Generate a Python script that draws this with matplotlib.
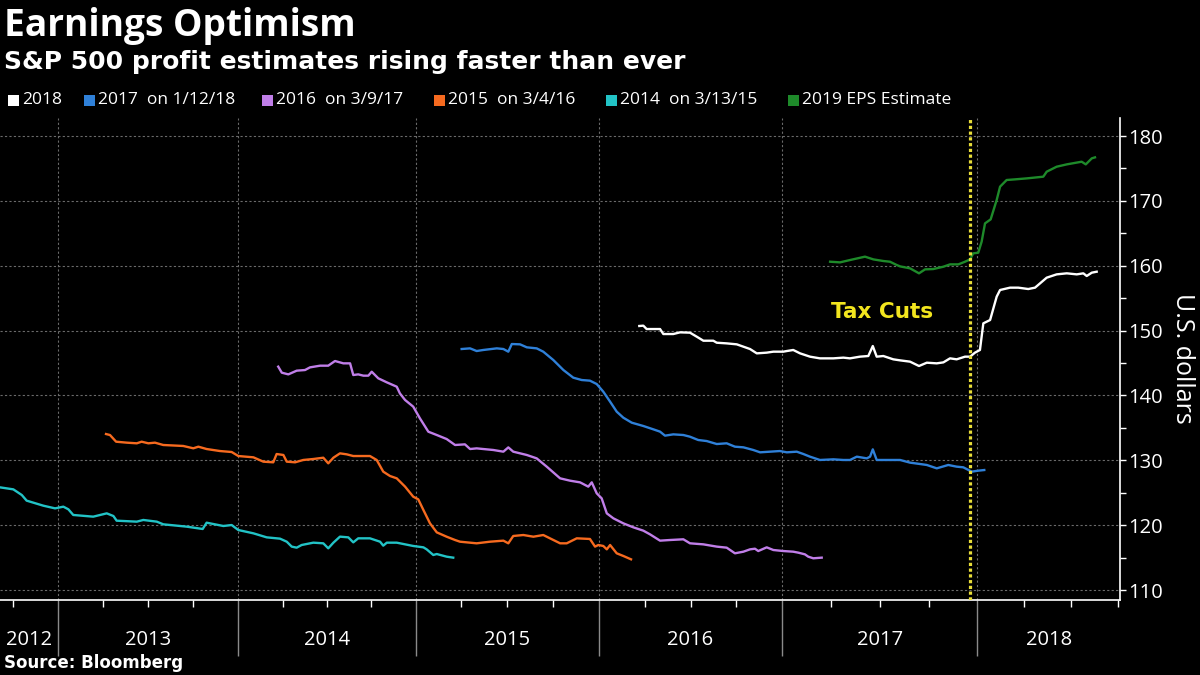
import numpy as np
import matplotlib
matplotlib.use("Agg")
import matplotlib.pyplot as plt
from matplotlib.patches import Rectangle
from matplotlib.transforms import blended_transform_factory

plt.rcParams['font.family'] = ['Open Sans', 'DejaVu Sans']

# ---------------- data (x in decimal years, y in U.S. dollars) ----------------
eps2014_x = [2012.676, 2012.750, 2012.797, 2012.824, 2012.917, 2012.982, 2013.028, 2013.056, 2013.083, 2013.194,
             2013.269, 2013.306, 2013.324, 2013.436, 2013.472, 2013.547, 2013.583, 2013.713, 2013.802, 2013.824,
             2013.917, 2013.963, 2014.000, 2014.085, 2014.160, 2014.235, 2014.273, 2014.301, 2014.329, 2014.357,
             2014.423, 2014.479, 2014.507, 2014.536, 2014.573, 2014.620, 2014.648, 2014.676, 2014.742, 2014.799,
             2014.817, 2014.837, 2014.893, 2014.986, 2015.042, 2015.060, 2015.096, 2015.115, 2015.169, 2015.205]
eps2014_y = [125.83, 125.52, 124.65, 123.78, 123.00, 122.59, 122.85, 122.44, 121.57, 121.31,
             121.82, 121.41, 120.69, 120.54, 120.80, 120.54, 120.13, 119.77, 119.41, 120.38,
             119.87, 120.02, 119.25, 118.74, 118.12, 117.92, 117.45, 116.69, 116.53, 116.94,
             117.30, 117.20, 116.43, 117.30, 118.23, 118.12, 117.35, 117.97, 117.97, 117.45,
             116.84, 117.30, 117.30, 116.79, 116.58, 116.27, 115.40, 115.55, 115.14, 114.99]

eps2015_x = [2013.265, 2013.287, 2013.321, 2013.380, 2013.436, 2013.463, 2013.500, 2013.537, 2013.583, 2013.694,
             2013.750, 2013.778, 2013.824, 2013.898, 2013.963, 2014.000, 2014.085, 2014.141, 2014.197, 2014.216,
             2014.254, 2014.273, 2014.320, 2014.366, 2014.423, 2014.479, 2014.507, 2014.536, 2014.573, 2014.611,
             2014.648, 2014.742, 2014.780, 2014.817, 2014.855, 2014.893, 2014.940, 2014.986, 2015.014, 2015.042,
             2015.078, 2015.115, 2015.169, 2015.215, 2015.242, 2015.333, 2015.406, 2015.479, 2015.506, 2015.533,
             2015.588, 2015.643, 2015.697, 2015.789, 2015.825, 2015.880, 2015.952, 2015.980, 2015.998, 2016.025,
             2016.044, 2016.062, 2016.098, 2016.134, 2016.176]
eps2015_y = [134.05, 133.90, 132.87, 132.72, 132.62, 132.87, 132.62, 132.72, 132.36, 132.21,
             131.85, 132.10, 131.74, 131.43, 131.28, 130.66, 130.46, 129.79, 129.69, 130.97,
             130.82, 129.79, 129.69, 130.05, 130.20, 130.40, 129.53, 130.40, 131.07, 130.92,
             130.66, 130.66, 130.05, 128.25, 127.58, 127.22, 125.94, 124.39, 123.98, 122.34,
             120.28, 118.89, 118.22, 117.71, 117.45, 117.20, 117.45, 117.61, 117.20, 118.33,
             118.48, 118.22, 118.48, 117.20, 117.20, 117.97, 117.87, 116.69, 116.94, 116.79,
             116.27, 116.94, 115.66, 115.25, 114.73]

eps2016_x = [2014.225, 2014.245, 2014.282, 2014.329, 2014.376, 2014.404, 2014.461, 2014.507, 2014.545, 2014.592,
             2014.630, 2014.648, 2014.676, 2014.705, 2014.733, 2014.752, 2014.789, 2014.837, 2014.893, 2014.911,
             2014.940, 2014.986, 2015.023, 2015.069, 2015.115, 2015.169, 2015.215, 2015.269, 2015.297, 2015.333,
             2015.369, 2015.424, 2015.479, 2015.506, 2015.533, 2015.607, 2015.661, 2015.716, 2015.789, 2015.843,
             2015.898, 2015.943, 2015.962, 2015.989, 2016.016, 2016.044, 2016.080, 2016.134, 2016.188, 2016.243,
             2016.279, 2016.334, 2016.388, 2016.461, 2016.497, 2016.570, 2016.643, 2016.697, 2016.742, 2016.788,
             2016.824, 2016.851, 2016.869, 2016.915, 2016.951, 2017.005, 2017.056, 2017.082, 2017.116, 2017.133,
             2017.159, 2017.202]
eps2016_y = [144.44, 143.51, 143.25, 143.82, 143.92, 144.33, 144.59, 144.59, 145.31, 144.95,
             144.95, 143.15, 143.25, 143.05, 143.05, 143.66, 142.64, 142.02, 141.35, 140.31,
             139.30, 138.27, 136.47, 134.41, 133.90, 133.28, 132.36, 132.46, 131.74, 131.84,
             131.74, 131.59, 131.33, 131.99, 131.33, 130.82, 130.30, 129.02, 127.22, 126.86,
             126.60, 125.94, 126.60, 124.91, 124.14, 121.82, 121.05, 120.28, 119.67, 119.15,
             118.59, 117.61, 117.71, 117.82, 117.20, 117.04, 116.69, 116.53, 115.66, 115.91,
             116.27, 116.37, 116.01, 116.58, 116.17, 116.01, 115.91, 115.76, 115.50, 115.14,
             114.89, 114.99]

eps2017_x = [2015.251, 2015.297, 2015.333, 2015.369, 2015.443, 2015.479, 2015.506, 2015.525, 2015.570, 2015.607,
             2015.661, 2015.697, 2015.752, 2015.807, 2015.861, 2015.907, 2015.952, 2015.989, 2016.025, 2016.062,
             2016.098, 2016.134, 2016.180, 2016.243, 2016.297, 2016.334, 2016.361, 2016.406, 2016.461, 2016.497,
             2016.542, 2016.588, 2016.643, 2016.697, 2016.742, 2016.788, 2016.842, 2016.879, 2016.933, 2016.987,
             2017.023, 2017.074, 2017.108, 2017.142, 2017.193, 2017.262, 2017.313, 2017.347, 2017.382, 2017.433,
             2017.450, 2017.464, 2017.484, 2017.535, 2017.604, 2017.655, 2017.706, 2017.741, 2017.792, 2017.851,
             2017.894, 2017.928, 2017.971, 2018.005, 2018.037]
eps2017_y = [147.16, 147.26, 146.85, 147.01, 147.26, 147.16, 146.75, 147.93, 147.88, 147.42,
             147.26, 146.75, 145.46, 143.92, 142.74, 142.38, 142.28, 141.76, 140.58, 139.04,
             137.50, 136.57, 135.80, 135.29, 134.78, 134.42, 133.80, 134.00, 133.90, 133.64,
             133.13, 132.97, 132.51, 132.62, 132.10, 132.00, 131.59, 131.23, 131.33, 131.43,
             131.23, 131.33, 130.97, 130.56, 130.05, 130.15, 130.05, 130.05, 130.56, 130.30,
             130.56, 131.69, 130.05, 130.05, 130.05, 129.64, 129.43, 129.28, 128.76, 129.28,
             129.02, 128.92, 128.25, 128.40, 128.50]

eps2018_x = [2016.221, 2016.243, 2016.261, 2016.334, 2016.352, 2016.406, 2016.443, 2016.497, 2016.534, 2016.570,
             2016.624, 2016.643, 2016.697, 2016.752, 2016.788, 2016.824, 2016.861, 2016.915, 2016.951, 2017.005,
             2017.023, 2017.056, 2017.091, 2017.142, 2017.193, 2017.262, 2017.313, 2017.347, 2017.398, 2017.441,
             2017.464, 2017.484, 2017.518, 2017.569, 2017.604, 2017.655, 2017.701, 2017.741, 2017.792, 2017.826,
             2017.860, 2017.894, 2017.937, 2017.963, 2017.988, 2018.014, 2018.032, 2018.068, 2018.103, 2018.121,
             2018.174, 2018.218, 2018.271, 2018.307, 2018.334, 2018.369, 2018.422, 2018.476, 2018.529, 2018.564,
             2018.582, 2018.609, 2018.635]
eps2018_y = [150.71, 150.76, 150.24, 150.24, 149.47, 149.47, 149.73, 149.68, 149.06, 148.44,
             148.44, 148.13, 148.03, 147.88, 147.52, 147.16, 146.49, 146.60, 146.75, 146.75,
             146.85, 147.01, 146.49, 145.98, 145.72, 145.72, 145.83, 145.72, 145.98, 146.08,
             147.62, 145.98, 146.08, 145.57, 145.41, 145.21, 144.54, 145.05, 144.95, 145.10,
             145.72, 145.57, 145.98, 145.98, 146.60, 147.01, 151.12, 151.63, 155.23, 156.26,
             156.62, 156.62, 156.41, 156.62, 157.29, 158.16, 158.67, 158.83, 158.67, 158.83,
             158.42, 158.93, 159.08]

eps2019_x = [2017.245, 2017.296, 2017.347, 2017.424, 2017.467, 2017.518, 2017.552, 2017.587, 2017.604, 2017.655,
             2017.701, 2017.732, 2017.774, 2017.826, 2017.860, 2017.903, 2017.937, 2017.963, 2017.979, 2018.005,
             2018.023, 2018.041, 2018.071, 2018.103, 2018.121, 2018.156, 2018.201, 2018.263, 2018.351, 2018.369,
             2018.422, 2018.476, 2018.555, 2018.577, 2018.609, 2018.626]
eps2019_y = [160.62, 160.52, 160.88, 161.40, 160.98, 160.73, 160.62, 160.11, 159.90, 159.60,
             158.83, 159.44, 159.49, 159.85, 160.21, 160.21, 160.62, 160.98, 161.91, 162.01,
             163.71, 166.53, 167.15, 170.13, 172.19, 173.22, 173.32, 173.47, 173.73, 174.50,
             175.27, 175.63, 176.04, 175.63, 176.56, 176.71]

tax_cut_date = 2017.965
tax_cut_label = "Tax Cuts"

series_labels = ["2018", "2017  on 1/12/18", "2016  on 3/9/17", "2015  on 3/4/16",
                 "2014  on 3/13/15", "2019 EPS Estimate"]
series_colors = ["#ffffff", "#2f80d8", "#c07ee8", "#f66a1f", "#22c3c6", "#1e8a2a"]
year_labels = ["2012", "2013", "2014", "2015", "2016", "2017", "2018"]
y_ticks = [110, 120, 130, 140, 150, 160, 170, 180]

# ---------------- non-uniform time scale (Bloomberg axis: each year has its own width) ----------------
scale_years = np.arange(2000, 2036)
year_width = {2012: 180.0, 2013: 180.0, 2014: 177.4, 2015: 183.0, 2016: 183.6, 2017: 195.0, 2018: 188.0}
widths = np.array([year_width.get(int(y), 184.0) for y in scale_years[:-1]])
scale_pos = np.concatenate([[0.0], np.cumsum(widths)])


def fwd(x):
    return np.interp(np.asarray(x, dtype=float), scale_years, scale_pos)


def inv(p):
    return np.interp(np.asarray(p, dtype=float), scale_pos, scale_years)


# ---------------- figure ----------------
W, H = 1200, 675
fig = plt.figure(figsize=(12, 6.75), dpi=100, facecolor="black")
ax = fig.add_axes([0, 1 - 600 / H, 1120 / W, (600 - 118) / H])
ax.set_facecolor("black")
ax.set_xscale("function", functions=(fwd, inv))

all_x = [eps2018_x, eps2017_x, eps2016_x, eps2015_x, eps2014_x, eps2019_x]
all_y = [eps2018_y, eps2017_y, eps2016_y, eps2015_y, eps2014_y, eps2019_y]
for xs, ys, c in zip(all_x, all_y, series_colors):
    ax.plot(xs, ys, color=c, lw=1.7, solid_joinstyle="round", zorder=3)

xmin, xmax = 2012.676, 2018.759
ax.set_xlim(xmin, xmax)
ax.set_ylim(108.46, 182.78)

# tax cut marker
ax.axvline(tax_cut_date, color="#e9de3a", lw=2.3, linestyle=(0, (1.0, 0.8)), zorder=4)
ax.text(2017.51, 152.9, tax_cut_label, color="#f2e51e", fontsize=15.5, fontweight="bold",
        family="DejaVu Sans", ha="center", va="center", zorder=5)

# spines
for s in ["left", "top"]:
    ax.spines[s].set_visible(False)
for s in ["right", "bottom"]:
    ax.spines[s].set_color("white")
    ax.spines[s].set_linewidth(1.2)

# y axis on the right
ax.yaxis.tick_right()
ax.set_yticks(y_ticks)
ax.set_yticks(np.arange(115, 180, 10), minor=True)
ax.tick_params(axis="y", which="both", colors="white", length=4, width=1, direction="out",
               labelsize=14.5, pad=2)

# x axis: long grey year separators, short white quarter ticks
year_bounds = [int(y) for y in year_labels[1:]]
ax.set_xticks(year_bounds, labels=[""] * len(year_bounds))
quarters = [y + q for y in range(2012, 2019) for q in (0.25, 0.5, 0.75) if xmin < y + q < xmax]
ax.set_xticks(quarters, minor=True)
ax.tick_params(axis="x", which="major", length=40, width=1, color="#8a8a8a", direction="out")
ax.tick_params(axis="x", which="minor", length=5, width=1, color="white", direction="out")

ax.grid(True, which="major", color="#6a6a6a", linestyle=(0, (2, 2)), linewidth=0.8)
ax.set_axisbelow(True)

trans = blended_transform_factory(ax.transData, ax.transAxes)
for lab in year_labels:
    y0 = int(lab)
    lo, hi = max(y0, xmin), min(y0 + 1, xmax)
    ax.text((lo + hi) / 2, -0.082, lab, transform=trans, ha="center", va="center",
            color="white", fontsize=14.5)

# y label
fig.text(1182 / W, 1 - 358 / H, "U.S. dollars", rotation=270, ha="center", va="center",
         color="white", fontsize=18)

# titles
fig.text(4 / W, 1 - 36 / H, "Earnings Optimism", color="white", fontsize=26.7, fontweight="bold",
         va="baseline", ha="left")
fig.text(4 / W, 1 - 69 / H, "S&P 500 profit estimates rising faster than ever", color="white",
         fontsize=18, fontweight="bold", family="DejaVu Sans", va="baseline", ha="left")

# legend
legend_px = [8, 84, 262, 434, 606, 788]
for px, lab, c in zip(legend_px, series_labels, series_colors):
    fig.patches.append(Rectangle((px / W, 1 - 105.5 / H), 11 / W, 11 / H, transform=fig.transFigure,
                                 facecolor=c, edgecolor="none"))
    fig.text((px + 14) / W, 1 - 100 / H, lab, color="white", fontsize=12.5, va="center", ha="left")

fig.text(4 / W, 1 - 668 / H, "Source: Bloomberg", color="white", fontsize=12, fontweight="bold",
         family="DejaVu Sans", va="baseline", ha="left")

fig.savefig("out.png", dpi=100, facecolor="black")
